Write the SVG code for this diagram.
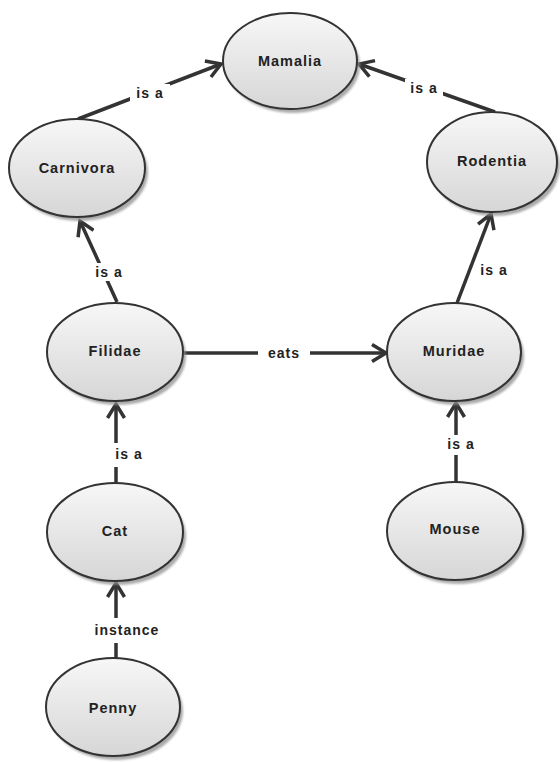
<svg xmlns="http://www.w3.org/2000/svg" width="560" height="762" viewBox="0 0 560 762">
  <style>
    .node-body { fill: url(#nodeFill); stroke: #333; stroke-width: 2; }
    .node-shadow { fill: #8f8f8f; opacity: 0.75; }
    .node-label { font-family: "Liberation Sans", Arial, sans-serif; font-weight: bold; font-size: 14.5px; letter-spacing: 1px; fill: #222; text-anchor: middle; }
    .edge { stroke: #333; stroke-width: 3.5; fill: none; marker-end: url(#arrow); }
    .edge-label { font-family: "Liberation Sans", Arial, sans-serif; font-weight: bold; font-size: 14px; letter-spacing: 1px; fill: #222; text-anchor: middle; }
    .label-bg { fill: #fff; }
  </style>
  <defs>
    <linearGradient id="nodeFill" x1="0" y1="0" x2="0" y2="1">
      <stop offset="0" stop-color="#f7f7f7"/>
      <stop offset="1" stop-color="#d6d6d6"/>
    </linearGradient>
    <filter id="soft" x="-20%" y="-20%" width="140%" height="140%">
      <feGaussianBlur stdDeviation="1.2"/>
    </filter>
    <marker id="arrow" viewBox="-16 -10 20 20" refX="0" refY="0" markerWidth="20" markerHeight="20" markerUnits="userSpaceOnUse" orient="auto">
      <path d="M-14,-8.5 L0,0 L-14,8.5" fill="none" stroke="#333" stroke-width="3.5" stroke-linejoin="miter"/>
    </marker>
  </defs>

  <rect width="560" height="762" fill="#fff"/>

  <!-- connectors -->
  <g id="edges">
    <line class="edge" x1="78" y1="119" x2="221" y2="64"/>
    <line class="edge" x1="495" y1="112" x2="359" y2="64"/>
    <line class="edge" x1="117" y1="302" x2="80" y2="221"/>
    <line class="edge" x1="457" y1="303" x2="491" y2="214"/>
    <line class="edge" x1="184" y1="353" x2="386" y2="353"/>
    <line class="edge" x1="116" y1="483" x2="116" y2="404"/>
    <line class="edge" x1="456" y1="483" x2="456" y2="403"/>
    <line class="edge" x1="116" y1="658" x2="116" y2="583"/>

    <rect class="label-bg" x="130" y="84" width="40" height="18"/>
    <text class="edge-label" x="150" y="93" dy="0.35em">is a</text>
    <rect class="label-bg" x="405" y="79" width="38" height="18"/>
    <text class="edge-label" x="424" y="88" dy="0.35em">is a</text>
    <rect class="label-bg" x="93" y="263" width="32" height="18"/>
    <text class="edge-label" x="109" y="272" dy="0.35em">is a</text>
    <text class="edge-label" x="494" y="270" dy="0.35em">is a</text>
    <rect class="label-bg" x="258" y="344" width="52" height="18"/>
    <text class="edge-label" x="284" y="353" dy="0.35em">eats</text>
    <rect class="label-bg" x="108" y="443" width="38" height="24"/>
    <text class="edge-label" x="129" y="454" dy="0.35em">is a</text>
    <rect class="label-bg" x="443" y="435" width="38" height="20"/>
    <text class="edge-label" x="461" y="444" dy="0.35em">is a</text>
    <rect class="label-bg" x="90" y="618" width="74" height="25"/>
    <text class="edge-label" x="127" y="630" dy="0.35em">instance</text>
  </g>

  <!-- nodes -->
  <g id="mamalia">
    <ellipse class="node-shadow" cx="293" cy="65" rx="67" ry="48" filter="url(#soft)"/>
    <ellipse class="node-body" cx="290" cy="61" rx="67" ry="48"/>
    <text class="node-label" x="290" y="61" dy="0.35em">Mamalia</text>
  </g>
  <g id="carnivora">
    <ellipse class="node-shadow" cx="80" cy="172" rx="68" ry="49" filter="url(#soft)"/>
    <ellipse class="node-body" cx="77" cy="168" rx="68" ry="49"/>
    <text class="node-label" x="77" y="168" dy="0.35em">Carnivora</text>
  </g>
  <g id="rodentia">
    <ellipse class="node-shadow" cx="495" cy="166" rx="65" ry="50" filter="url(#soft)"/>
    <ellipse class="node-body" cx="492" cy="162" rx="65" ry="50"/>
    <text class="node-label" x="492" y="161" dy="0.35em">Rodentia</text>
  </g>
  <g id="filidae">
    <ellipse class="node-shadow" cx="118" cy="356" rx="68" ry="49" filter="url(#soft)"/>
    <ellipse class="node-body" cx="115" cy="352" rx="68" ry="49"/>
    <text class="node-label" x="115" y="351" dy="0.35em">Filidae</text>
  </g>
  <g id="muridae">
    <ellipse class="node-shadow" cx="457" cy="356" rx="67" ry="49" filter="url(#soft)"/>
    <ellipse class="node-body" cx="454" cy="352" rx="67" ry="49"/>
    <text class="node-label" x="454" y="351" dy="0.35em">Muridae</text>
  </g>
  <g id="cat">
    <ellipse class="node-shadow" cx="118" cy="536" rx="68" ry="49" filter="url(#soft)"/>
    <ellipse class="node-body" cx="115" cy="532" rx="68" ry="49"/>
    <text class="node-label" x="115" y="531" dy="0.35em">Cat</text>
  </g>
  <g id="mouse">
    <ellipse class="node-shadow" cx="458" cy="535" rx="68" ry="49" filter="url(#soft)"/>
    <ellipse class="node-body" cx="455" cy="531" rx="68" ry="49"/>
    <text class="node-label" x="455" y="529" dy="0.35em">Mouse</text>
  </g>
  <g id="penny">
    <ellipse class="node-shadow" cx="116" cy="711" rx="67" ry="49" filter="url(#soft)"/>
    <ellipse class="node-body" cx="113" cy="707" rx="67" ry="49"/>
    <text class="node-label" x="113" y="708" dy="0.35em">Penny</text>
  </g>
</svg>
